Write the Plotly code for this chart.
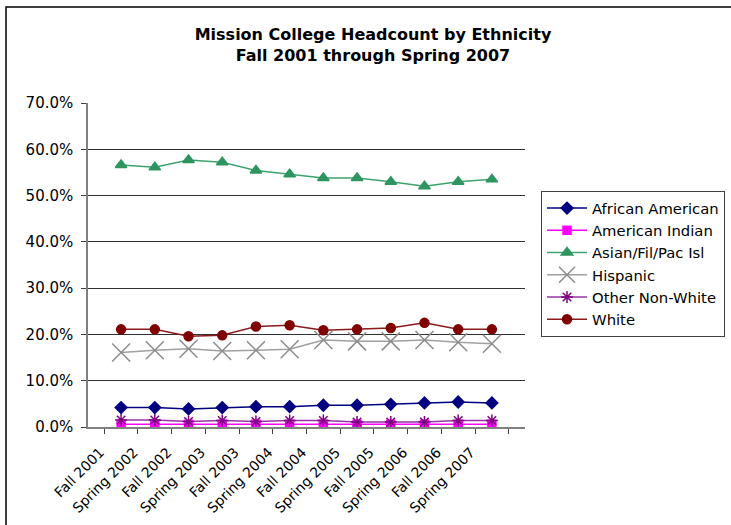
import plotly.graph_objects as go

terms = ["Fall 2001", "Spring 2002", "Fall 2002", "Spring 2003", "Fall 2003", "Spring 2004",
         "Fall 2004", "Spring 2005", "Fall 2005", "Spring 2006", "Fall 2006", "Spring 2007"]

african_american = [4.2, 4.2, 3.9, 4.2, 4.4, 4.4, 4.7, 4.7, 4.9, 5.2, 5.4, 5.2]
american_indian = [0.6, 0.6, 0.6, 0.6, 0.6, 0.6, 0.6, 0.6, 0.6, 0.6, 0.6, 0.6]
asian_fil_pac = [56.6, 56.1, 57.7, 57.2, 55.4, 54.6, 53.8, 53.8, 53.0, 52.0, 53.0, 53.5]
hispanic = [16.1, 16.6, 16.9, 16.4, 16.6, 16.8, 18.8, 18.5, 18.5, 18.8, 18.3, 18.0]
other_non_white = [1.5, 1.5, 1.2, 1.4, 1.2, 1.4, 1.4, 1.1, 1.1, 1.1, 1.4, 1.4]
white = [21.1, 21.1, 19.6, 19.8, 21.7, 22.0, 20.9, 21.1, 21.4, 22.5, 21.1, 21.1]

series = [
    ("African American", african_american, "#000080", "#000080", "diamond", 9, 1.5),
    ("American Indian", american_indian, "#FF00FF", "#FF00FF", "square", 8, 1.5),
    ("Asian/Fil/Pac Isl", asian_fil_pac, "#3CA46E", "#2E9560", "triangle-up", 10, 1.5),
    ("Hispanic", hispanic, "#A0A0A0", "#8C8C8C", "x-thin-open", 18, 1.5),
    ("Other Non-White", other_non_white, "#9933AA", "#800080", "asterisk-open", 10, 1.5),
    ("White", white, "#8B1A1A", "#800000", "circle", 9, 1.5),
]

FONT = "DejaVu Sans, Liberation Sans, Arial, sans-serif"

fig = go.Figure()
for name, vals, lc, mc, sym, ms, lw in series:
    fig.add_trace(go.Scatter(
        x=terms, y=vals, name=name, mode="lines+markers",
        line=dict(color=lc, width=lw),
        marker=dict(symbol=sym, size=ms, color=mc, line=dict(color=mc, width=1.5)),
    ))

W, H = 731, 525
L, R, T, B = 88, 731 - 525, 103, 525 - 427
pw, ph = W - L - R, H - T - B

fig.update_layout(
    width=W, height=H,
    margin=dict(l=L, r=R, t=T, b=B, autoexpand=False),
    paper_bgcolor="white", plot_bgcolor="white",
    font=dict(family=FONT, color="#000000"),
    title=dict(
        text="<b>Mission College Headcount by Ethnicity<br>Fall 2001 through Spring 2007</b>",
        x=373 / W, xanchor="center", y=1 - 40 / H, yanchor="middle",
        font=dict(size=16, color="#000000"),
    ),
    showlegend=True,
    legend=dict(
        x=(541 - L) / pw, xanchor="left", y=(427 - 191) / ph, yanchor="top",
        bordercolor="#404040", borderwidth=1, bgcolor="white",
        font=dict(size=14.8), tracegroupgap=0, itemwidth=40,
    ),
    xaxis=dict(
        type="category", tickson="boundaries", tickangle=-45,
        showline=True, linecolor="#808080", linewidth=1.5,
        ticks="outside", ticklen=5, tickcolor="#404040",
        showgrid=False, tickfont=dict(size=14),
        ticklabelshift=-21, ticklabelstandoff=10, automargin=False,
    ),
    yaxis=dict(
        range=[0, 70], dtick=10, tickformat=".1f", ticksuffix="%",
        showline=True, linecolor="#808080", linewidth=1.5,
        ticks="outside", ticklen=5, tickcolor="#404040",
        showgrid=True, gridcolor="#303030", gridwidth=1, zeroline=False,
        tickfont=dict(size=15), ticklabelstandoff=5, automargin=False,
    ),
)

fig.add_shape(type="rect", xref="paper", yref="paper",
              x0=(6 - L) / pw, x1=(W + 20 - L) / pw,
              y0=-(H + 20 - 427) / ph, y1=(427 - 7) / ph,
              line=dict(color="#000000", width=1.5), fillcolor="rgba(0,0,0,0)", layer="below")

fig.write_html("out.html")
